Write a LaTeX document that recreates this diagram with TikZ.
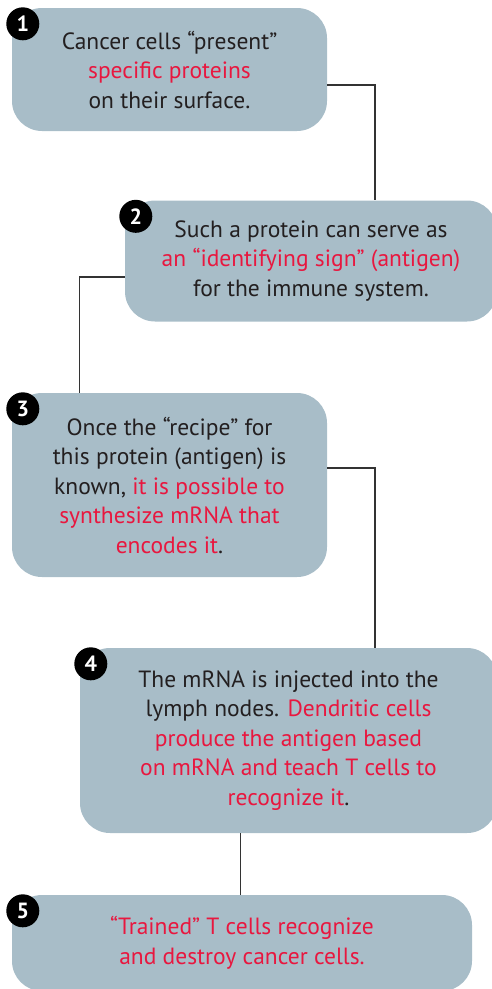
\documentclass[tikz,border=0pt]{standalone}
\usepackage{fontspec}
\setmainfont{PT Sans}
\usepackage{xcolor}
\definecolor{vacbox}{HTML}{A8BDC8}
\definecolor{vacred}{HTML}{E8173F}
\definecolor{vactxt}{HTML}{231F20}
\definecolor{vacline}{HTML}{333333}
\usepackage{tikz}
\usetikzlibrary{positioning,calc}

\newcommand{\hl}[1]{\textcolor{vacred}{#1}}

\begin{document}
\begin{tikzpicture}[x=1pt,y=-1pt,
  stepbox/.style={fill=vacbox,rounded corners=30pt,inner sep=0pt,align=center,
    text=vactxt,font=\fontsize{23.5}{29.5}\selectfont},
  badge/.style={circle,fill=black,minimum size=33pt,inner sep=0pt,text=white,
    font=\fontsize{22}{22}\selectfont\bfseries},
  link/.style={draw=vacline,line width=1.1pt}]
\useasboundingbox (0,0) rectangle (492,989);

% step boxes
\node[stepbox,minimum width=315pt,minimum height=123pt] (b1) at (169.5,69.5)
  {Cancer cells “present”\\ \hl{specific proteins}\\ on their surface.};
\node[stepbox,minimum width=372pt,minimum height=121pt] (b2) at (311,261)
  {Such a protein can serve as\\ \hl{an “identifying sign” (antigen)}\\ for the immune system.};
\node[stepbox,minimum width=315pt,minimum height=184pt] (b3) at (169.5,485)
  {Once the “recipe” for\\ this protein (antigen) is\\ known, \hl{it is possible to}\\ \hl{synthesize mRNA that}\\ \hl{encodes it}.};
\node[stepbox,minimum width=417pt,minimum height=185pt] (b4) at (288.5,740.5)
  {The mRNA is injected into the\\ lymph nodes. \hl{Dendritic cells}\\ \hl{produce the antigen based}\\ \hl{on mRNA and teach T cells to}\\ \hl{recognize it}.};
\node[stepbox,minimum width=460pt,minimum height=96pt] (b5) at (242,943)
  {\hl{“Trained” T cells recognize}\\ \hl{and destroy cancer cells.}};

% number badges
\foreach \i in {1,...,5}
  \node[badge] (n\i) at ([xshift=11pt,yshift=-16pt]b\i.north west) {\i};

% connectors
\draw[link] ([yshift=-15.5pt]b1.east) -| ([xshift=64pt]b2.north);
\draw[link] ([yshift=-16pt]b2.west) -| ([xshift=-90pt]b3.north);
\draw[link] ([yshift=17pt]b3.east) -| ([xshift=86.5pt]b4.north);
\draw[link] ([xshift=-48pt]b4.south) -- ([xshift=-48pt]b4.south |- b5.north);
\end{tikzpicture}
\end{document}
